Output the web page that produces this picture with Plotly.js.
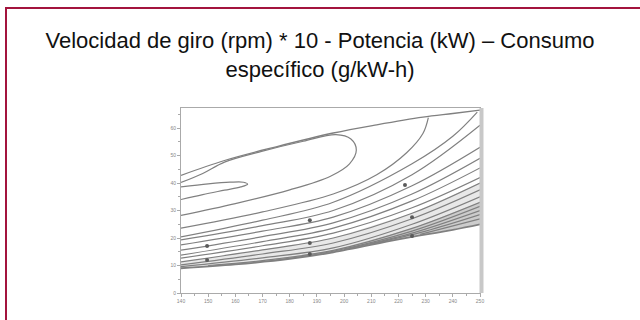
<!DOCTYPE html>
<html>
<head>
<meta charset="utf-8">
<script src="https://cdn.plot.ly/plotly-3.0.1.min.js"></script>
<style>
html,body{margin:0;padding:0;background:#fff;}
#wrap{position:relative;width:640px;height:320px;overflow:hidden;}
#chart{width:640px;height:320px;}
#frame{position:absolute;left:5px;top:7px;width:700px;height:400px;border-left:2px solid #a3143d;border-top:2px solid #a3143d;pointer-events:none;}
</style>
</head>
<body>
<div id="wrap"><div id="chart"></div><div id="frame"></div></div>
<script>
// Axis ticks
const xTickVals = [140,150,160,170,180,190,200,210,220,230,240,250];
const yTickVals = [0,10,20,30,40,50,60];

// Outer (maximum power) boundary
const topX = [140,156,175,196,212,229,240,250];
const topY = [42.8,48.2,53.2,58.2,61.2,64.0,65.3,66.5];
// Lower boundary of the map
const botX = [140,160,180,196,220,240,250];
const botY = [9.0,10.4,12.4,14.8,19.5,23.0,25.0];

// Innermost island (minimum consumption)
const islandX = [140,150,158,163,164.5,162,156,148,140];
const islandY = [38.6,39.7,40.3,40.3,39.6,38.6,37.4,35.8,34.0];
// Second closed contour
const loopX = [140,160,180,195,202,204.5,202.5,197,185,170,156,148,140];
const loopY = [28.2,32.5,37.5,42.5,47.0,52.0,56.0,57.6,55.2,51.6,47.6,43.5,40.2];

// Open contours fanning to the lower right
const f1X = [140,170,196,212,223,229,231];
const f1Y = [23.6,29.5,36.0,43.0,51.0,58.0,63.8];
const f2X = [140,170,196,225,240,249];
const f2Y = [20.4,26.5,33.0,47.0,57.0,65.8];
const f3X = [140,170,196,225,250];
const f3Y = [19.3,24.5,30.0,43.0,61.0];
const f4X = [140,170,196,225,250];
const f4Y = [17.5,22.5,27.6,39.0,53.0];
const f5X = [140,170,196,225,250];
const f5Y = [15.6,20.5,25.5,36.0,49.0];
const f6X = [140,170,196,225,250];
const f6Y = [13.8,18.7,23.6,33.5,45.5];
const f7X = [140,170,196,225,250];
const f7Y = [12.7,17.2,21.8,31.0,42.0];
const f8X = [140,170,196,225,250];
const f8Y = [11.3,15.7,20.0,29.0,40.0];
const f9X = [140,170,196,225,250];
const f9Y = [10.2,14.2,18.2,27.0,37.5];
const f10X = [140,170,196,225,250];
const f10Y = [9.6,12.8,16.4,25.0,35.0];
const f11X = [150,170,196,225,250];
const f11Y = [10.0,11.8,15.5,23.5,33.0];
const f12X = [175,196,225,250];
const f12Y = [12.0,15.2,22.5,31.5];
const f13X = [200,225,250];
const f13Y = [15.8,21.8,30.0];
const f14X = [210,230,250];
const f14Y = [17.8,22.5,28.5];
const f15X = [228,250];
const f15Y = [21.3,27.0];

// Measured test points
const ptX = [149.6,149.6,187.4,187.4,187.4,222.4,225.0,225.0];
const ptY = [17.1,12.0,26.5,18.2,14.2,39.3,27.6,20.7];

const lineColor = '#808080';
function contour(x, y, w){
  return {x:x, y:y, type:'scatter', mode:'lines', hoverinfo:'skip',
    line:{color:lineColor, width:w||1.2, shape:'spline', smoothing:1}, showlegend:false};
}
function band(lowX, lowY, highX, highY, color){
  return {x:lowX.concat(highX.slice().reverse()), y:lowY.concat(highY.slice().reverse()),
    type:'scatter', mode:'lines', fill:'toself', fillcolor:color,
    line:{width:0}, hoverinfo:'skip', showlegend:false};
}

const traces = [
  band(botX, botY, f8X, f8Y, 'rgba(150,150,150,0.22)'),
  band(botX, botY, f11X, f11Y, 'rgba(120,120,120,0.25)'),
  contour(topX, topY, 1.3), contour(botX, botY, 1.8),
  contour(islandX, islandY), contour(loopX, loopY),
  contour(f1X,f1Y), contour(f2X,f2Y), contour(f3X,f3Y), contour(f4X,f4Y), contour(f5X,f5Y),
  contour(f6X,f6Y), contour(f7X,f7Y), contour(f8X,f8Y), contour(f9X,f9Y), contour(f10X,f10Y),
  contour(f11X,f11Y), contour(f12X,f12Y), contour(f13X,f13Y), contour(f14X,f14Y), contour(f15X,f15Y),
  {x:ptX, y:ptY, type:'scatter', mode:'markers', marker:{color:'#5a5a5a', size:4}, hoverinfo:'skip', showlegend:false}
];

const axisCommon = {showgrid:false, zeroline:false, showline:true, linecolor:'#aaa', linewidth:1, mirror:true,
  ticks:'outside', ticklen:3, tickcolor:'#aaa', tickfont:{family:'Liberation Sans', size:5, color:'#888'}};

const layout = {
  width:640, height:320,
  paper_bgcolor:'#fff', plot_bgcolor:'#fff',
  margin:{l:181, r:160, t:108, b:27},
  title:{text:'Velocidad de giro (rpm) * 10 - Potencia (kW) – Consumo<br>específico (g/kW-h)',
    font:{family:'Liberation Sans', size:22, color:'#111'},
    x:0.5, xref:'container', xanchor:'center', y:0.85, yref:'container', yanchor:'top'},
  xaxis:Object.assign({}, axisCommon, {range:[140,250], tickvals:xTickVals, ticktext:xTickVals.map(String),
    minor:{ticks:'outside', ticklen:2, dtick:5, tick0:140, tickcolor:'#aaa'}}),
  yaxis:Object.assign({}, axisCommon, {range:[0,67.3], tickvals:yTickVals, ticktext:yTickVals.map(String),
    minor:{ticks:'outside', ticklen:2, dtick:5, tickcolor:'#aaa'}}),
  shapes:[{type:'line', xref:'paper', yref:'paper', x0:1.005, x1:1.005, y0:0, y1:1, line:{color:'#c8c8c8', width:4}}]
};

Plotly.newPlot('chart', traces, layout, {staticPlot:true, displayModeBar:false});
</script>
</body>
</html>
